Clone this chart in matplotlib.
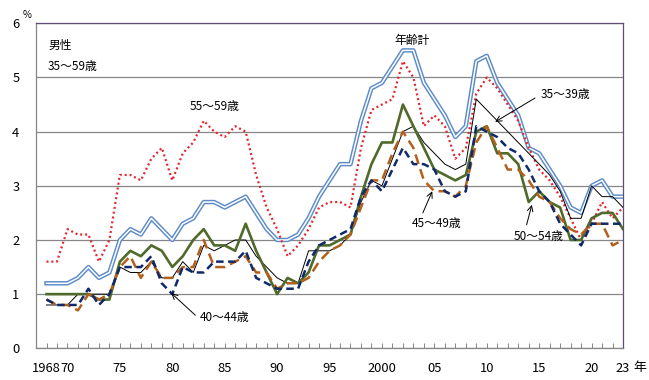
import matplotlib
matplotlib.use("Agg")
import matplotlib.pyplot as plt
from matplotlib.ticker import FixedLocator

plt.rcParams['font.family'] = ['Noto Sans CJK JP', 'DejaVu Sans']

years = list(range(1968, 2024))

# 年齢計
total = [1.2, 1.2, 1.2, 1.3, 1.5, 1.3, 1.4, 2.0, 2.2, 2.1,
         2.4, 2.2, 2.0, 2.3, 2.4, 2.7, 2.7, 2.6, 2.7, 2.8,
         2.5, 2.2, 2.0, 2.0, 2.1, 2.4, 2.8, 3.1, 3.4, 3.4,
         4.2, 4.8, 4.9, 5.2, 5.5, 5.5, 4.9, 4.6, 4.3, 3.9,
         4.1, 5.3, 5.4, 4.9, 4.6, 4.3, 3.7, 3.6, 3.3, 3.0,
         2.6, 2.5, 3.0, 3.1, 2.8, 2.8]

age35_39 = [0.8, 0.8, 0.8, 1.0, 1.0, 1.0, 1.0, 1.5, 1.4, 1.4,
            1.6, 1.3, 1.3, 1.6, 1.4, 1.9, 1.8, 1.9, 2.0, 2.0,
            1.7, 1.5, 1.3, 1.2, 1.2, 1.8, 1.8, 1.8, 1.9, 2.1,
            2.7, 3.1, 3.0, 3.5, 4.0, 4.1, 3.8, 3.6, 3.4, 3.3,
            3.4, 4.6, 4.4, 4.2, 4.0, 3.8, 3.6, 3.4, 3.2, 2.9,
            2.4, 2.4, 3.0, 2.8, 2.8, 2.6]

age40_44 = [0.9, 0.8, 0.8, 0.8, 1.1, 0.8, 1.0, 1.5, 1.5, 1.5,
            1.7, 1.2, 1.0, 1.5, 1.4, 1.4, 1.6, 1.6, 1.6, 1.8,
            1.3, 1.2, 1.1, 1.1, 1.1, 1.6, 1.9, 2.0, 2.1, 2.2,
            2.8, 3.1, 2.9, 3.3, 3.7, 3.4, 3.4, 3.3, 2.9, 2.8,
            2.9, 4.1, 4.0, 3.9, 3.7, 3.6, 3.3, 2.9, 2.7, 2.3,
            2.1, 1.9, 2.3, 2.3, 2.3, 2.3]

age45_49 = [0.9, 0.8, 0.8, 0.7, 1.0, 0.9, 1.0, 1.5, 1.7, 1.3,
            1.6, 1.3, 1.3, 1.5, 1.5, 2.0, 1.5, 1.5, 1.6, 1.7,
            1.4, 1.4, 1.1, 1.2, 1.2, 1.3, 1.6, 1.8, 1.9, 2.1,
            2.6, 3.1, 3.1, 3.6, 4.0, 3.7, 3.1, 2.9, 2.9, 2.8,
            3.0, 3.8, 4.1, 3.7, 3.3, 3.3, 3.1, 2.8, 2.7, 2.4,
            2.2, 2.1, 2.3, 2.3, 1.9, 2.0]

age50_54 = [1.0, 1.0, 1.0, 1.0, 1.0, 0.9, 0.9, 1.6, 1.8, 1.7,
            1.9, 1.8, 1.5, 1.7, 2.0, 2.2, 1.9, 1.9, 1.8, 2.3,
            1.8, 1.4, 1.0, 1.3, 1.2, 1.4, 1.9, 1.9, 2.0, 2.1,
            2.8, 3.4, 3.8, 3.8, 4.5, 4.1, 3.7, 3.3, 3.2, 3.1,
            3.2, 4.0, 4.1, 3.6, 3.6, 3.4, 2.7, 2.9, 2.7, 2.6,
            2.0, 2.0, 2.4, 2.5, 2.5, 2.2]

age55_59 = [1.6, 1.6, 2.2, 2.1, 2.1, 1.6, 2.0, 3.2, 3.2, 3.1,
            3.5, 3.7, 3.1, 3.6, 3.8, 4.2, 4.0, 3.9, 4.1, 4.0,
            3.2, 2.6, 2.2, 1.7, 1.9, 2.2, 2.6, 2.7, 2.7, 2.6,
            3.7, 4.4, 4.5, 4.6, 5.3, 5.0, 4.1, 4.3, 4.1, 3.5,
            3.7, 4.7, 5.0, 4.8, 4.5, 4.2, 3.7, 3.3, 3.1, 2.8,
            2.4, 2.0, 2.3, 2.7, 2.4, 2.6]

tick_years = [1968, 1970, 1975, 1980, 1985, 1990, 1995, 2000, 2005, 2010, 2015, 2020, 2023]
tick_labels = ['1968', '70', '75', '80', '85', '90', '95', '2000', '05', '10', '15', '20', '23']

fig = plt.figure(figsize=(6.49, 3.80), dpi=100)
ax = fig.add_axes([0.0555, 0.0834, 0.9045, 0.8553])

# 年齢計: double line (blue outline with white core)
ax.plot(years, total, color='#5C8BC8', lw=3.2, zorder=3)
ax.plot(years, total, color='white', lw=1.1, zorder=3.1)
ax.plot(years, age55_59, color='#E3262E', lw=1.6, linestyle=(0, (0.9, 1.3)), zorder=4)
ax.plot(years, age35_39, color='black', lw=0.7, zorder=4)
ax.plot(years, age50_54, color='#4F6A2A', lw=1.9, zorder=5)
ax.plot(years, age45_49, color='#B2601C', lw=1.8, linestyle=(0, (4, 2.2)), zorder=6)
ax.plot(years, age40_44, color='#10296A', lw=1.8, linestyle=(0, (3, 1.8)), zorder=7)

ax.set_xlim(1967, 2023)
ax.set_ylim(0, 6)
ax.set_yticks(range(7))
ax.set_yticklabels([str(v) for v in range(7)])
ax.yaxis.grid(True, color='#868686', lw=0.9)
ax.set_axisbelow(True)

ax.set_xticks(tick_years)
ax.set_xticklabels(tick_labels)
ax.xaxis.set_minor_locator(FixedLocator(years))
ax.tick_params(axis='x', which='both', direction='in', length=3.5, width=0.7,
               color='#868686', pad=10, labelsize=9.3)
ax.tick_params(axis='y', length=0, pad=12, labelsize=9.3)

for side in ['top', 'right']:
    ax.spines[side].set_color('#604C74')
    ax.spines[side].set_linewidth(0.9)
for side in ['left', 'bottom']:
    ax.spines[side].set_color('#868686')
    ax.spines[side].set_linewidth(0.9)

fs = 8.5
ax.text(1966.1, 6.15, '%', fontsize=7, ha='center', va='center', clip_on=False)
ax.text(1968.2, 5.6, '男性', fontsize=fs, ha='left', va='center')
ax.text(1968.1, 5.21, '35～59歳', fontsize=fs, ha='left', va='center')
ax.text(1984.0, 4.47, '55～59歳', fontsize=fs, ha='center', va='center')
ax.text(2002.9, 5.69, '年齢計', fontsize=fs, ha='center', va='center')
ax.text(2015.1, 4.69, '35～39歳', fontsize=fs, ha='left', va='center')
ax.text(2005.2, 2.31, '45～49歳', fontsize=fs, ha='center', va='center')
ax.text(2014.9, 2.07, '50～54歳', fontsize=fs, ha='center', va='center')
ax.text(1985.0, 0.56, '40～44歳', fontsize=fs, ha='center', va='center')
ax.text(2024.6, -0.36, '年', fontsize=9.3, ha='center', va='center', clip_on=False)

arrow = dict(arrowstyle='->', color='black', lw=0.7, shrinkA=0, shrinkB=0)
ax.annotate('', xy=(2010.8, 4.18), xytext=(2014.6, 4.62), arrowprops=arrow, zorder=8)
ax.annotate('', xy=(2004.8, 2.90), xytext=(2003.9, 2.50), arrowprops=arrow, zorder=8)
ax.annotate('', xy=(2014.3, 2.65), xytext=(2013.8, 2.28), arrowprops=arrow, zorder=8)
ax.annotate('', xy=(1979.9, 1.02), xytext=(1982.2, 0.61), arrowprops=arrow, zorder=8)

fig.savefig('out.png', dpi=100)
